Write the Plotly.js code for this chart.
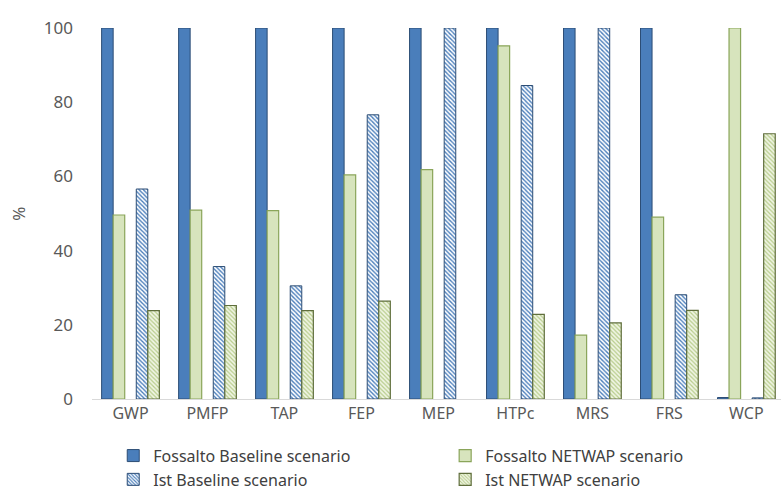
<!DOCTYPE html>
<html>
<head>
<meta charset="utf-8">
<script src="https://cdn.plot.ly/plotly-3.0.1.min.js"></script>
<style>html,body{margin:0;padding:0;background:#fff;}#chart{width:781px;height:494px;}</style>
</head>
<body>
<div id="chart"></div>
<script>
const categories = ["GWP", "PMFP", "TAP", "FEP", "MEP", "HTPc", "MRS", "FRS", "WCP"];
const fossaltoBaseline = [100, 100, 100, 100, 100, 100, 100, 100, 0.4];
const fossaltoNetwap   = [49.6, 50.9, 50.8, 60.4, 61.8, 95.2, 17.2, 49.0, 100];
const istBaseline      = [56.6, 35.7, 30.5, 76.6, 100, 84.5, 100, 28.1, 0.3];
const istNetwap        = [23.8, 25.2, 23.8, 26.4, null, 22.8, 20.5, 23.9, 71.5];
const spacer           = [null, null, null, null, null, null, null, null, null];
const yTicks = [0, 20, 40, 60, 80, 100];
const yTitle = "%";

const FONT = "Noto Sans, Lato, sans-serif";
const traces = [
  {type: "bar", name: "Fossalto Baseline scenario", x: categories, y: fossaltoBaseline, legend: "legend",
   marker: {color: "#4a7ebb", line: {color: "#2c4d75", width: 1}}},
  {type: "bar", name: "Fossalto NETWAP scenario", x: categories, y: fossaltoNetwap, legend: "legend2",
   marker: {color: "#d7e4bd", line: {color: "#8aa55a", width: 1.2}}},
  {type: "bar", name: "spacer", x: categories, y: spacer, showlegend: false, hoverinfo: "skip"},
  {type: "bar", name: "Ist Baseline scenario", x: categories, y: istBaseline, legend: "legend",
   marker: {color: "#ffffff", line: {color: "#2c4d75", width: 1},
            pattern: {shape: "\\", fgcolor: "#4a7ebb", bgcolor: "#ffffff", size: 3, solidity: 0.45}}},
  {type: "bar", name: "Ist NETWAP scenario", x: categories, y: istNetwap, legend: "legend2",
   marker: {color: "#ebf1de", line: {color: "#5f6e3c", width: 1.2},
            pattern: {shape: "\\", fgcolor: "#b7cc8a", bgcolor: "#f0f5e4", size: 3, solidity: 0.4}}}
];

const legendCommon = {
  orientation: "v",
  xref: "container", yref: "container",
  xanchor: "left", yanchor: "top",
  traceorder: "normal",
  font: {size: 16, color: "#404040"},
  itemwidth: 30,
  tracegroupgap: 0,
  bgcolor: "rgba(0,0,0,0)"
};

const layout = {
  width: 781, height: 494,
  margin: {l: 92, r: 0, t: 28, b: 95, autoexpand: false},
  paper_bgcolor: "#ffffff", plot_bgcolor: "#ffffff",
  font: {family: FONT, color: "#595959", size: 16},
  barmode: "group",
  bargap: 0.25,
  bargroupgap: 0,
  showlegend: true,
  xaxis: {
    type: "category",
    range: [-0.5, 8.45],
    showline: true, linecolor: "#d9d9d9", linewidth: 1,
    showgrid: false, ticks: "", zeroline: false,
    tickfont: {size: 16, color: "#595959"}
  },
  yaxis: {
    range: [0, 100],
    tickvals: yTicks,
    showline: false, showgrid: false, zeroline: false, ticks: "",
    tickfont: {size: 17, color: "#595959"},
    ticklabelstandoff: 18
  },
  annotations: [{
    text: yTitle, xref: "paper", yref: "paper", x: -0.107, y: 0.5,
    xanchor: "center", yanchor: "middle", textangle: -90, showarrow: false,
    font: {size: 17, color: "#595959"}
  }],
  legend: Object.assign({}, legendCommon, {x: 0.145, y: 0.112}),
  legend2: Object.assign({}, legendCommon, {x: 0.57, y: 0.112})
};

Plotly.newPlot("chart", traces, layout, {displayModeBar: false, staticPlot: true});
</script>
</body>
</html>
